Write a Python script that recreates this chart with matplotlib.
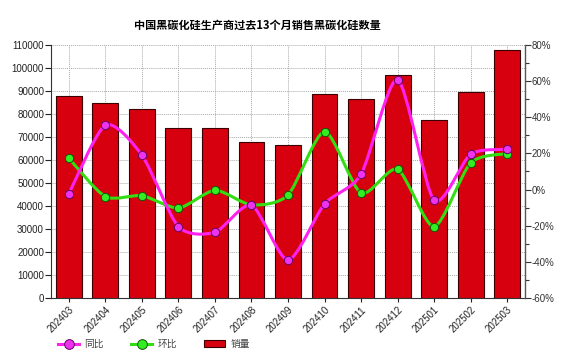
import matplotlib
matplotlib.use("Agg")
import matplotlib.pyplot as plt
import numpy as np
from matplotlib.path import Path
from matplotlib.patches import PathPatch, Patch
from matplotlib.lines import Line2D
from matplotlib.ticker import MultipleLocator, FuncFormatter

plt.rcParams['font.family'] = ['Liberation Sans', 'Noto Sans CJK SC', 'DejaVu Sans']

title = "中国黑碳化硅生产商过去13个月销售黑碳化硅数量"
months = ["202403", "202404", "202405", "202406", "202407", "202408", "202409",
          "202410", "202411", "202412", "202501", "202502", "202503"]
sales = [88000, 85000, 82000, 74000, 74000, 68000, 66500,
         88500, 86500, 96800, 77500, 89400, 107700]
yoy = [-2.3, 35.6, 19.0, -20.5, -23.6, -8.7, -39.0,
       -8.0, 8.5, 60.8, -5.9, 19.5, 22.3]
mom = [17.3, -3.9, -3.4, -10.2, -0.4, -8.5, -3.0,
       32.0, -1.9, 11.2, -20.5, 14.7, 19.9]
legend_labels = ["同比", "环比", "销量"]

BAR = "#D7000F"
MAG = "#FF22EE"
MAG_FACE = "#EE33EE"
GRN = "#33DD11"
GRN_FACE = "#33EE22"

fig = plt.figure(figsize=(5.8, 3.58), dpi=100)
ax = fig.add_axes([51/580, 1-298/358, (525-51)/580, (298-45)/358])
x = np.arange(len(months))

ax.bar(x, sales, width=0.71, color=BAR, edgecolor="#3a0000", linewidth=0.8, zorder=2)
ax.set_xlim(-0.49, len(months) - 0.51)
ax.set_ylim(0, 110000)
ax.yaxis.set_major_locator(MultipleLocator(10000))
ax.grid(True, axis='both', linestyle=(0, (1, 1)), color="#aaaaaa", linewidth=0.7, zorder=0)
ax.set_axisbelow(True)
ax.set_xticks(x)
ax.set_xticklabels(months, rotation=45, ha='right', rotation_mode='anchor', fontsize=7)
ax.tick_params(axis='y', labelsize=7, length=4, width=0.8, colors="#222222", pad=1)
ax.tick_params(axis='x', length=3, width=0.8, colors="#222222", pad=2)
for s in ['top', 'right']:
    ax.spines[s].set_visible(False)
ax.spines['left'].set_color("#333333")
ax.spines['bottom'].set_color("#333333")

ax2 = ax.twinx()
ax2.set_ylim(-60, 80)
ax2.set_xlim(ax.get_xlim())
ax2.yaxis.set_major_locator(MultipleLocator(20))
ax2.yaxis.set_minor_locator(MultipleLocator(10))
ax2.yaxis.set_major_formatter(FuncFormatter(lambda v, p: f"{int(round(v))}%"))
ax2.tick_params(axis='y', which='major', labelsize=7, length=4, width=0.8, colors="#333333", pad=1)
ax2.tick_params(axis='y', which='minor', length=3, width=0.8, colors="#333333")
for s in ['top', 'left', 'bottom']:
    ax2.spines[s].set_visible(False)
ax2.spines['right'].set_color("#555555")
ax2.spines['right'].set_linewidth(1.0)


def smooth_path(xs, ys, k=8.0):
    pts = np.column_stack([xs, ys]).astype(float)
    n = len(pts)
    verts = [pts[0]]
    codes = [Path.MOVETO]
    for i in range(n - 1):
        p0 = pts[i - 1] if i > 0 else pts[i]
        p1 = pts[i]
        p2 = pts[i + 1]
        p3 = pts[i + 2] if i + 2 < n else pts[i + 1]
        c1 = p1 + (p2 - p0) / k
        c2 = p2 - (p3 - p1) / k
        verts += [c1, c2, p2]
        codes += [Path.CURVE4] * 3
    return Path(verts, codes)


ax2.add_patch(PathPatch(smooth_path(x, mom), fill=False, edgecolor=GRN, linewidth=2.2, zorder=3))
ax2.add_patch(PathPatch(smooth_path(x, yoy), fill=False, edgecolor=MAG, linewidth=2.2, zorder=4))
ax2.plot(x, mom, linestyle='none', marker='o', markersize=6, markerfacecolor=GRN_FACE,
         markeredgecolor="#115500", markeredgewidth=0.7, zorder=5)
ax2.plot(x, yoy, linestyle='none', marker='o', markersize=6, markerfacecolor=MAG_FACE,
         markeredgecolor="#660066", markeredgewidth=0.7, zorder=6)

fig.text(257/580, 1-25/358, title, ha='center', va='center', fontsize=8, fontweight='bold',
         family=['Noto Sans CJK SC', 'DejaVu Sans'])

handles = [
    Line2D([0], [0], color=MAG, linewidth=2.2, marker='o', markersize=7,
           markerfacecolor=MAG_FACE, markeredgecolor="#660066", markeredgewidth=0.7),
    Line2D([0], [0], color=GRN, linewidth=2.2, marker='o', markersize=7,
           markerfacecolor=GRN_FACE, markeredgecolor="#115500", markeredgewidth=0.7),
    Patch(facecolor=BAR, edgecolor="#3a0000", linewidth=0.8),
]
leg = fig.legend(handles, legend_labels, loc='lower left', bbox_to_anchor=(0.085, 0.0),
                 ncol=3, frameon=False, handlelength=2.2, columnspacing=2.8,
                 handletextpad=0.5, prop={'family': ['Noto Sans CJK SC', 'DejaVu Sans'], 'size': 7})
for t in leg.get_texts():
    t.set_color("#444444")

fig.savefig("out.png", dpi=100)
